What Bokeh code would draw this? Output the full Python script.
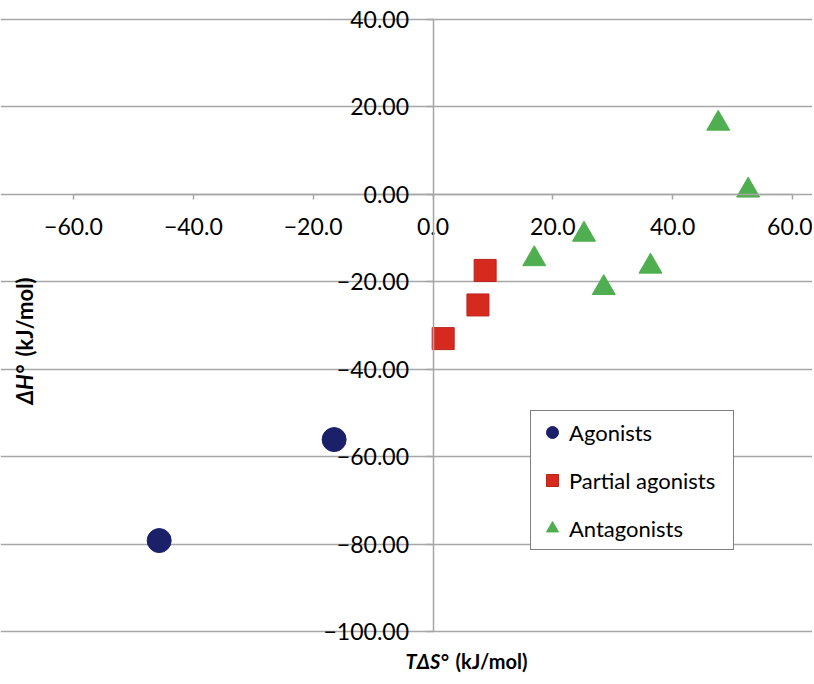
import math
from bokeh.plotting import figure
from bokeh.models import Range1d, FixedTicker, Label, Legend, LegendItem
from bokeh.embed import file_html
from bokeh.resources import INLINE

# ---- data ----
agonist_x = [-45.7, -16.5]
agonist_y = [-79.2, -56.1]
partial_x = [1.7, 7.5, 8.7]
partial_y = [-33.0, -25.3, -17.4]
antag_x = [16.9, 25.2, 28.5, 36.3, 47.6, 52.6]
antag_y = [-14.8, -9.2, -21.4, -16.5, 16.2, 0.9]

x_ticks = [-60, -40, -20, 0, 20, 40, 60]
x_tick_labels = ["\u221260.0", "\u221240.0", "\u221220.0", "0.0", "20.0", "40.0", "60.0"]
y_ticks = [-100, -80, -60, -40, -20, 0, 20, 40]
y_tick_labels = ["\u2212100.00", "\u221280.00", "\u221260.00", "\u221240.00", "\u221220.00",
                 "0.00", "20.00", "40.00"]

series_names = ["Agonists", "Partial agonists", "Antagonists"]

FONT = "Lato"
GRID = "#a6a6a6"

# ---- layout (pixels) ----
W, H = 812, 680
PL, PR, PT, PB = 73, 792, 19, 631          # data area inside canvas
XMIN, XMAX, YMIN, YMAX = -60, 60, -100, 40
kx = (XMAX - XMIN) / (PR - PL)
ky = (YMAX - YMIN) / (PB - PT)

p = figure(frame_width=W, frame_height=H,
           x_range=Range1d(XMIN - PL * kx, XMAX + (W - PR) * kx),
           y_range=Range1d(YMIN - (H - PB) * ky, YMAX + PT * ky),
           output_backend="svg", toolbar_location=None,
           min_border_left=0, min_border_right=0,
           min_border_top=0, min_border_bottom=0)
p.outline_line_color = None
p.background_fill_color = "white"
p.border_fill_color = "white"

# axes crossing at origin
p.xaxis.fixed_location = 0
p.yaxis.fixed_location = 0
p.xaxis.bounds = (XMIN, XMAX)
p.yaxis.bounds = (YMIN, YMAX)
for ax in (p.xaxis, p.yaxis):
    ax.axis_line_color = GRID
    ax.axis_line_width = 1.5
    ax.major_tick_line_color = GRID
    ax.major_tick_line_width = 1.5
    ax.major_tick_in = 0
    ax.minor_tick_line_color = None
    ax.major_label_text_font = FONT
    ax.major_label_text_font_size = "23px"
    ax.major_label_text_color = "black"

p.xaxis.ticker = FixedTicker(ticks=x_ticks)
p.yaxis.ticker = FixedTicker(ticks=y_ticks)
p.xaxis.major_label_overrides = {t: l for t, l in zip(x_ticks, x_tick_labels)}
p.yaxis.major_label_overrides = {t: l for t, l in zip(y_ticks, y_tick_labels)}
p.xaxis.major_tick_out = 5
p.yaxis.major_tick_out = 7
p.xaxis.major_label_standoff = 19
p.yaxis.major_label_standoff = 17

p.xgrid.grid_line_color = None
p.ygrid.ticker = FixedTicker(ticks=y_ticks)
p.ygrid.bounds = (XMIN, XMAX)
p.ygrid.grid_line_color = GRID
p.ygrid.grid_line_width = 1.5

# series
r1 = p.scatter(agonist_x, agonist_y, marker="circle", size=24,
               fill_color="#1b2169", line_color="#1b2169")
r2 = p.scatter(partial_x, partial_y, marker="square", size=22,
               fill_color="#d72a1f", line_color="#b8241b", line_width=1)
r3 = p.scatter(antag_x, antag_y, marker="triangle", size=23,
               fill_color="#4fae4f", line_color="#4fae4f")

legend = Legend(items=[LegendItem(label=series_names[0], renderers=[r1]),
                       LegendItem(label=series_names[1], renderers=[r2]),
                       LegendItem(label=series_names[2], renderers=[r3])],
                location=(530, H - 550))
legend.border_line_color = "black"
legend.border_line_width = 1
legend.background_fill_color = "white"
legend.background_fill_alpha = 1
legend.label_text_font = FONT
legend.label_text_font_size = "22px"
legend.label_text_color = "black"
legend.glyph_width = 30
legend.glyph_height = 30
legend.label_height = 30
legend.label_width = 158
legend.spacing = 18
legend.padding = 6
legend.margin = 0
legend.label_standoff = 2
p.add_layout(legend, "center")

# axis titles (screen units relative to the frame, y from bottom)
title_kw = dict(text_font=FONT, text_font_size="20px", text_color="black",
                x_units="screen", y_units="screen", text_font_style="bold")
p.add_layout(Label(x=405, y=H - 672, text="T\u0394S\u00b0", text_align="left",
                   **{**title_kw, "text_font_style": "bold italic"}))
p.add_layout(Label(x=455, y=H - 672, text="(kJ/mol)", text_align="left", **title_kw))
ytitle_kw = {**title_kw, "text_font_size": "22px"}
p.add_layout(Label(x=37, y=H - 404, text="\u0394H\u00b0", text_align="left", angle=math.pi / 2,
                   **{**ytitle_kw, "text_font_style": "bold italic"}))
p.add_layout(Label(x=37, y=H - 356, text="(kJ/mol)", text_align="left", angle=math.pi / 2,
                   **ytitle_kw))

open("out.html", "w").write(file_html(p, INLINE))
